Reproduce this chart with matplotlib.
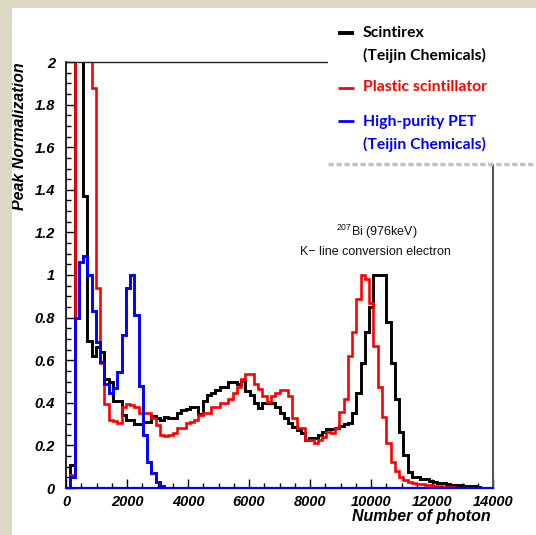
import matplotlib
matplotlib.use("Agg")
import matplotlib.pyplot as plt
import numpy as np
from matplotlib.patches import Rectangle
from matplotlib.lines import Line2D
from matplotlib.ticker import MultipleLocator, FixedLocator, FuncFormatter

plt.rcParams['mathtext.fontset'] = 'custom'
plt.rcParams['mathtext.rm'] = 'Liberation Sans'

# ---- data: 100 bins of 140 photons over 0..14000 ----
n_bins = 100
x_max = 14000

scintirex = [
    0.0, 0.11, 2.6, 2.3, 1.37, 0.69, 0.62, 0.66, 0.64, 0.51,
    0.50, 0.41, 0.41, 0.345, 0.32, 0.32, 0.30, 0.30, 0.31, 0.31,
    0.34, 0.33, 0.32, 0.335, 0.33, 0.33, 0.35, 0.366, 0.37, 0.38,
    0.38, 0.347, 0.41, 0.437, 0.445, 0.46, 0.473, 0.473, 0.50, 0.50,
    0.49, 0.503, 0.457, 0.437, 0.397, 0.374, 0.397, 0.40, 0.40, 0.38,
    0.354, 0.327, 0.304, 0.288, 0.272, 0.26, 0.225, 0.233, 0.233, 0.25,
    0.265, 0.275, 0.275, 0.28, 0.29, 0.30, 0.305, 0.35, 0.445, 0.588,
    0.734, 0.85, 1.0, 1.0, 1.0, 0.78, 0.588, 0.42, 0.265, 0.155,
    0.077, 0.053, 0.05, 0.04, 0.04, 0.035, 0.03, 0.025, 0.022, 0.02,
    0.015, 0.015, 0.012, 0.01, 0.01, 0.008, 0.005, 0.0, 0.0, 0.0,
]

plastic = [
    0.0, 0.06, 2.8, 3.0, 2.7, 2.3, 1.88, 0.937, 0.587, 0.394,
    0.32, 0.315, 0.307, 0.38, 0.395, 0.39, 0.38, 0.35, 0.35, 0.35,
    0.33, 0.296, 0.25, 0.244, 0.25, 0.257, 0.28, 0.28, 0.304, 0.31,
    0.32, 0.343, 0.354, 0.354, 0.38, 0.38, 0.397, 0.397, 0.42, 0.445,
    0.473, 0.51, 0.535, 0.535, 0.49, 0.463, 0.43, 0.405, 0.43, 0.445,
    0.46, 0.46, 0.43, 0.33, 0.28, 0.28, 0.225, 0.225, 0.213, 0.225,
    0.24, 0.265, 0.26, 0.28, 0.358, 0.42, 0.62, 0.734, 0.886, 1.0,
    0.98, 0.867, 0.667, 0.473, 0.335, 0.21, 0.12, 0.081, 0.053, 0.038,
    0.03, 0.025, 0.02, 0.02, 0.015, 0.012, 0.01, 0.008, 0.005, 0.005,
    0.003, 0.0, 0.0, 0.0, 0.0, 0.0, 0.0, 0.0, 0.0, 0.0,
]

pet = [
    0.0, 0.05, 0.80, 1.06, 1.09, 1.00, 0.83, 0.685, 0.59, 0.49,
    0.445, 0.47, 0.546, 0.72, 0.94, 1.00, 0.81, 0.48, 0.25, 0.12,
    0.07, 0.03, 0.01, 0.0, 0.0, 0.0, 0.0, 0.0, 0.0, 0.0,
    0.0, 0.0, 0.0, 0.0, 0.0, 0.0, 0.0, 0.0, 0.0, 0.0,
    0.0, 0.0, 0.0, 0.0, 0.0, 0.0, 0.0, 0.0, 0.0, 0.0,
    0.0, 0.0, 0.0, 0.0, 0.0, 0.0, 0.0, 0.0, 0.0, 0.0,
    0.0, 0.0, 0.0, 0.0, 0.0, 0.0, 0.0, 0.0, 0.0, 0.0,
    0.0, 0.0, 0.0, 0.0, 0.0, 0.0, 0.0, 0.0, 0.0, 0.0,
    0.0, 0.0, 0.0, 0.0, 0.0, 0.0, 0.0, 0.0, 0.0, 0.0,
    0.0, 0.0, 0.0, 0.0, 0.0, 0.0, 0.0, 0.0, 0.0, 0.0,
]

series_labels = [["Scintirex", "(Teijin Chemicals)"],
                 ["Plastic scintillator"],
                 ["High-purity PET", "(Teijin Chemicals)"]]
series_colors = ["black", "#ff0000", "#0000ff"]

x_ticks = [0, 2000, 4000, 6000, 8000, 10000, 12000, 14000]
y_ticks = [0, 0.2, 0.4, 0.6, 0.8, 1.0, 1.2, 1.4, 1.6, 1.8, 2.0]

edges = np.linspace(0, x_max, n_bins + 1)

W, H = 536, 535
fig = plt.figure(figsize=(W / 100, H / 100), dpi=100)
fig.patch.set_facecolor("white")

ax = fig.add_axes([66 / W, 47 / H, 427 / W, 426 / H])
ax.set_xlim(0, x_max)
ax.set_ylim(0, 2)

ax.stairs(scintirex, edges, color=series_colors[0], lw=2.1, baseline=None, zorder=2)
ax.stairs(plastic, edges, color=series_colors[1], lw=1.9, baseline=None, zorder=2.1)
ax.stairs(pet, edges, color=series_colors[2], lw=2.1, baseline=None, zorder=2.2)

# spines
ax.spines["left"].set_color("black")
ax.spines["left"].set_linewidth(1.2)
ax.spines["top"].set_color("#222222")
ax.spines["top"].set_linewidth(1.0)
ax.spines["right"].set_color("#555555")
ax.spines["right"].set_linewidth(1.5)
ax.spines["bottom"].set_color("#0000ff")
ax.spines["bottom"].set_linewidth(1.6)

ax.xaxis.set_major_locator(FixedLocator(x_ticks))
ax.yaxis.set_major_locator(FixedLocator(y_ticks))
ax.xaxis.set_minor_locator(MultipleLocator(500))
ax.yaxis.set_minor_locator(MultipleLocator(0.05))
ax.xaxis.set_major_formatter(FuncFormatter(lambda v, p: f"{v:g}"))
ax.yaxis.set_major_formatter(FuncFormatter(lambda v, p: f"{v:g}"))

ax.tick_params(which="both", direction="in", top=False, right=False, color="black", width=1.0)
ax.tick_params(which="major", length=6.3)
ax.tick_params(which="minor", length=3.6)
ax.tick_params(axis="y", which="major", pad=8)
ax.tick_params(axis="x", which="major", pad=5)

for lab in ax.get_xticklabels() + ax.get_yticklabels():
    lab.set_fontfamily("Liberation Sans")
    lab.set_fontweight("bold")
    lab.set_fontstyle("italic")
    lab.set_fontsize(10.5)

title_font = dict(family="Liberation Sans", weight="bold", style="italic", size=11.5)
fig.text(491 / W, 1 - 516 / H, "Number of photon", ha="right", va="center", **title_font)
fig.text(20 / W, 1 - 62 / H, "Peak Normalization", ha="center", va="top", rotation=90, **title_font)

# annotation
ann_font = dict(family="Liberation Sans", size=9, color="#111111")
fig.text(377 / W, 1 - 232 / H, r"$^{207}$Bi (976keV)", ha="center", va="center", **ann_font)
fig.text(375 / W, 1 - 252 / H, "K\u2212 line conversion electron", ha="center", va="center", **ann_font)

# legend box (white panel with dotted grey lower edge)
fig.add_artist(Rectangle((328 / W, 1 - 164 / H), 1 - 328 / W, 164 / H,
                         transform=fig.transFigure, facecolor="white",
                         edgecolor="none", zorder=10))
fig.add_artist(Line2D([328 / W, 1.0], [1 - 164 / H, 1 - 164 / H],
                      transform=fig.transFigure, color="#c0c0c0", lw=2.5,
                      dashes=(1.5, 0.8), zorder=11))

leg_font = dict(family="Lato", weight="bold", size=11.3)
mark_y = [33, 88, 121]
mark_lw = [2.8, 2.0, 2.0]
text_rows = [[33, 55], [87], [122, 144]]
for i in range(3):
    fig.add_artist(Line2D([338 / W, 354 / W], [1 - mark_y[i] / H] * 2,
                          transform=fig.transFigure, color=series_colors[i],
                          lw=mark_lw[i], solid_capstyle="butt", zorder=12))
    for j, line in enumerate(series_labels[i]):
        fig.text(363 / W, 1 - text_rows[i][j] / H, line, ha="left", va="center",
                 color=series_colors[i], zorder=12, **leg_font)

# beige frame strips (left and top)
beige = "#ddd8c3"
fig.add_artist(Rectangle((0, 0), 12 / W, 1, transform=fig.transFigure,
                         facecolor=beige, edgecolor="none", zorder=20))
fig.add_artist(Rectangle((0, 1 - 8 / H), 1, 8 / H, transform=fig.transFigure,
                         facecolor=beige, edgecolor="none", zorder=20))

fig.savefig("out.png", dpi=100)
